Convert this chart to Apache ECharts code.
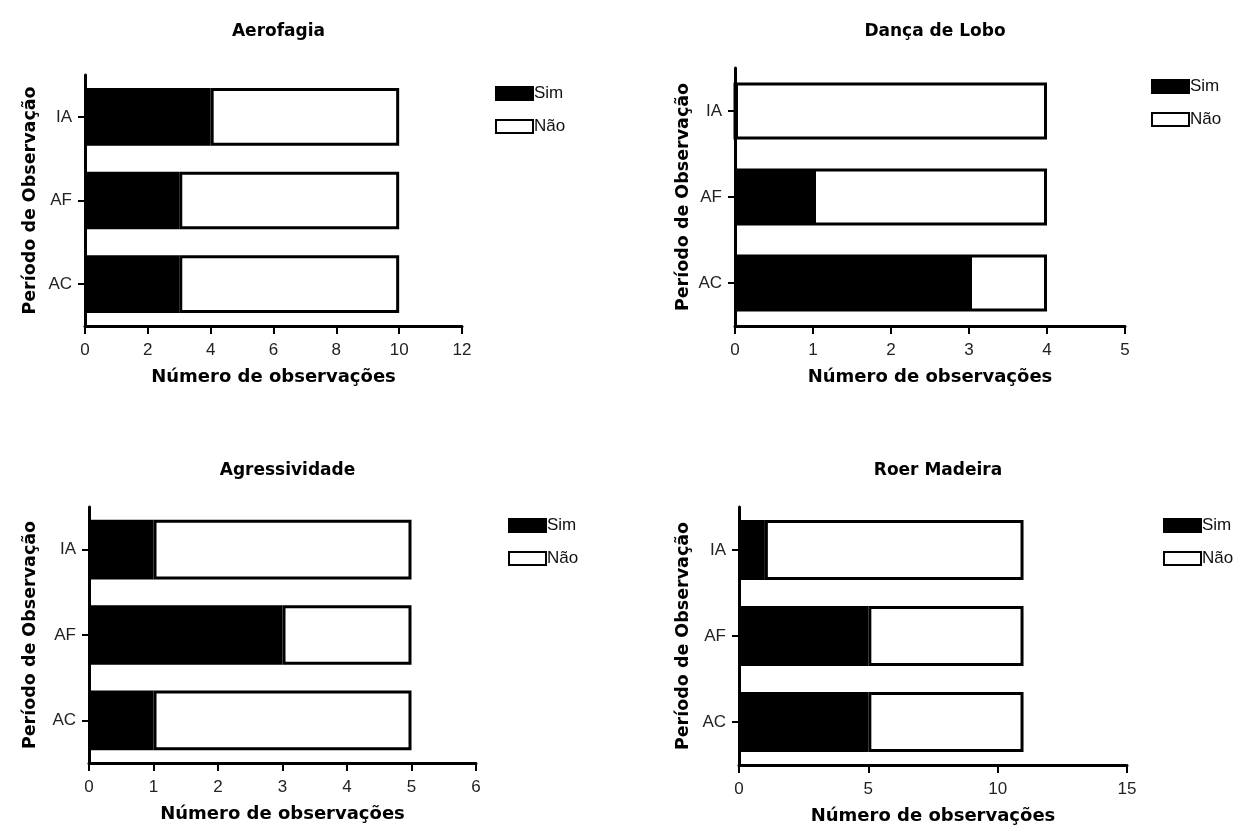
<!DOCTYPE html>
<html>
<head>
<meta charset="utf-8">
<script src="https://cdn.jsdelivr.net/npm/echarts@6/dist/echarts.min.js"></script>
<style>
  html, body { margin: 0; padding: 0; background: #ffffff; }
  #chart { width: 1234px; height: 828px; }
</style>
</head>
<body>
<div id="chart"></div>
<script>
// ---- data ----
const categories = ['AC', 'AF', 'IA'];
const panelTitles = ['Aerofagia', 'Dança de Lobo', 'Agressividade', 'Roer Madeira'];
const legendNames = ['Sim', 'Não'];
const xAxisTitle = 'Número de observações';
const yAxisTitle = 'Período de Observação';

const aerofagiaSim = [3, 3, 4];
const aerofagiaNao = [7, 7, 6];
const dancaSim = [3, 1, 0];
const dancaNao = [1, 3, 4];
const agressSim = [1, 3, 1];
const agressNao = [4, 2, 4];
const roerSim = [5, 5, 1];
const roerNao = [6, 6, 10];

const xMax = [12, 5, 6, 15];
const xStep = [2, 1, 1, 5];

// ---- layout ----
const grids = [
  { left: 85, top: 75, width: 377, height: 251 },
  { left: 735, top: 68, width: 390, height: 258 },
  { left: 89, top: 507, width: 387, height: 256 },
  { left: 739, top: 507, width: 388, height: 258 }
];
const legendPos = [
  { left: 495, top: 85 },
  { left: 1151, top: 78 },
  { left: 508, top: 517 },
  { left: 1163, top: 517 }
];
const titleTops = [18, 18, 457, 457];
const yNameGaps = [46, 43, 50, 47];
const catGaps = ['31%', '34%', '30%', '30%'];

const simData = [aerofagiaSim, dancaSim, agressSim, roerSim];
const naoData = [aerofagiaNao, dancaNao, agressNao, roerNao];

const boldFont = 'DejaVu Sans';
const regFont = 'Liberation Sans';

const option = {
  backgroundColor: '#ffffff',
  animation: false,
  title: grids.map((g, i) => ({
    text: panelTitles[i],
    left: g.left + g.width / 2,
    top: titleTops[i],
    textAlign: 'center',
    textStyle: { fontFamily: boldFont, fontWeight: 'bold', fontSize: 17, color: '#000' }
  })),
  legend: legendPos.map((p, i) => ({
    data: legendNames,
    orient: 'vertical',
    left: p.left,
    top: p.top,
    itemWidth: 37,
    itemHeight: 13,
    itemGap: 16,
    padding: 0,
    icon: 'rect',
    selectedMode: false,
    textStyle: { fontFamily: regFont, fontSize: 17, color: '#111', padding: [0, 0, 0, -4] }
  })),
  grid: grids.map(g => Object.assign({ containLabel: false }, g)),
  xAxis: grids.map((g, i) => ({
    type: 'value',
    gridIndex: i,
    min: 0,
    max: xMax[i],
    interval: xStep[i],
    name: xAxisTitle,
    nameLocation: 'middle',
    nameGap: 42,
    nameTextStyle: { fontFamily: boldFont, fontWeight: 'bold', fontSize: 18, color: '#000' },
    axisLine: { show: true, lineStyle: { color: '#000', width: 3 } },
    axisTick: { show: true, length: 8, lineStyle: { color: '#000', width: 2 } },
    axisLabel: { margin: 16, fontFamily: regFont, fontSize: 17, color: '#222' },
    splitLine: { show: false }
  })),
  yAxis: grids.map((g, i) => ({
    type: 'category',
    gridIndex: i,
    data: categories,
    name: yAxisTitle,
    nameLocation: 'middle',
    nameGap: yNameGaps[i],
    nameTextStyle: { fontFamily: boldFont, fontWeight: 'bold', fontSize: 17.5, color: '#000' },
    axisLine: { show: true, onZero: false, lineStyle: { color: '#000', width: 3 } },
    axisTick: { show: true, alignWithLabel: true, length: 7, lineStyle: { color: '#000', width: 2 } },
    axisLabel: { margin: 13, fontFamily: regFont, fontSize: 17, color: '#222' },
    splitLine: { show: false }
  })),
  series: []
};

for (let i = 0; i < 4; i++) {
  option.series.push({
    name: 'Sim',
    type: 'bar',
    xAxisIndex: i,
    yAxisIndex: i,
    stack: 'p' + i,
    barCategoryGap: catGaps[i],
    data: simData[i],
    itemStyle: { color: '#000', borderColor: '#000', borderWidth: 3 }
  });
  option.series.push({
    name: 'Não',
    type: 'bar',
    xAxisIndex: i,
    yAxisIndex: i,
    stack: 'p' + i,
    barCategoryGap: catGaps[i],
    data: naoData[i],
    itemStyle: { color: '#fff', borderColor: '#000', borderWidth: 3 }
  });
}

const chart = echarts.init(document.getElementById('chart'), null, { renderer: 'canvas' });
chart.setOption(option);
</script>
</body>
</html>
